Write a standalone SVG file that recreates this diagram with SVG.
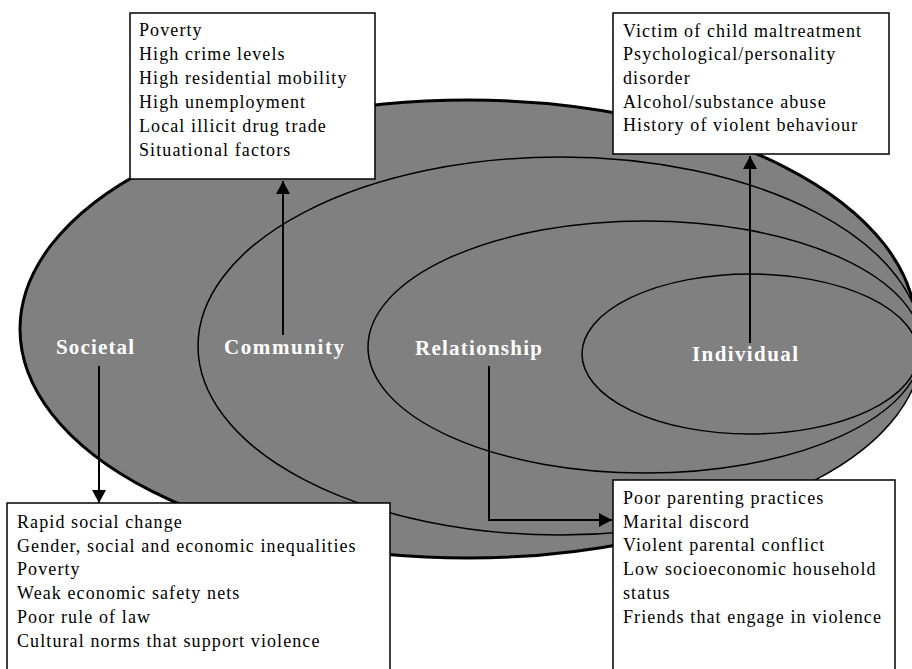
<svg xmlns="http://www.w3.org/2000/svg" width="912" height="669" viewBox="0 0 912 669">
<style>
.ring{fill:#808080;stroke:#000;stroke-width:1.5}
.outer{stroke-width:3}
.lbl{font-family:"Liberation Serif","Times New Roman",serif;font-weight:bold;font-size:21px;fill:#fff}
.box{fill:#fff;stroke:#000;stroke-width:1.5}
.txt{font-family:"Liberation Serif","Times New Roman",serif;font-size:18px;fill:#000;letter-spacing:1.1px}
.conn{fill:none;stroke:#000;stroke-width:2}
</style>
<defs>
<marker id="ah" markerUnits="userSpaceOnUse" markerWidth="14" markerHeight="14" refX="13" refY="7" orient="auto">
<path d="M0,0 L13,7 L0,14 z" fill="#000"/>
</marker>
</defs>
<rect width="912" height="669" fill="#fff"/>
<g id="societal">
<ellipse class="ring outer" cx="468" cy="329" rx="448" ry="229"/>
<text class="lbl" x="56" y="354" textLength="78" lengthAdjust="spacing">Societal</text>
</g>
<g id="community">
<ellipse class="ring" cx="560" cy="346" rx="362" ry="189"/>
<text class="lbl" x="224" y="354" textLength="120" lengthAdjust="spacing">Community</text>
</g>
<g id="relationship">
<ellipse class="ring" cx="645" cy="347" rx="277" ry="126"/>
<text class="lbl" x="415" y="355" textLength="127" lengthAdjust="spacing">Relationship</text>
</g>
<g id="individual">
<ellipse class="ring" cx="750" cy="354" rx="168" ry="80"/>
<text class="lbl" x="692" y="361" textLength="106" lengthAdjust="spacing">Individual</text>
</g>
<g id="community-factors">
<rect class="box" x="130" y="13" width="245" height="166"/>
<text class="txt" x="139" y="36">Poverty</text>
<text class="txt" x="139" y="60">High crime levels</text>
<text class="txt" x="139" y="84">High residential mobility</text>
<text class="txt" x="139" y="108">High unemployment</text>
<text class="txt" x="139" y="132">Local illicit drug trade</text>
<text class="txt" x="139" y="156">Situational factors</text>
</g>
<g id="individual-factors">
<rect class="box" x="613" y="13" width="276" height="141"/>
<text class="txt" x="623" y="37">Victim of child maltreatment</text>
<text class="txt" x="623" y="60">Psychological/personality</text>
<text class="txt" x="623" y="84">disorder</text>
<text class="txt" x="623" y="108">Alcohol/substance abuse</text>
<text class="txt" x="623" y="131">History of violent behaviour</text>
</g>
<g id="societal-factors">
<rect class="box" x="7" y="503" width="383" height="190"/>
<text class="txt" x="17" y="528">Rapid social change</text>
<text class="txt" x="17" y="552">Gender, social and economic inequalities</text>
<text class="txt" x="17" y="575">Poverty</text>
<text class="txt" x="17" y="599">Weak economic safety nets</text>
<text class="txt" x="17" y="623">Poor rule of law</text>
<text class="txt" x="17" y="647">Cultural norms that support violence</text>
</g>
<g id="relationship-factors">
<rect class="box" x="613" y="480" width="282" height="210"/>
<text class="txt" x="623" y="504">Poor parenting practices</text>
<text class="txt" x="623" y="528">Marital discord</text>
<text class="txt" x="623" y="551">Violent parental conflict</text>
<text class="txt" x="623" y="575">Low socioeconomic household</text>
<text class="txt" x="623" y="599">status</text>
<text class="txt" x="623" y="623">Friends that engage in violence</text>
</g>
<g id="connectors">
<line class="conn" x1="283" y1="335" x2="283" y2="181" marker-end="url(#ah)"/>
<line class="conn" x1="99" y1="366" x2="99" y2="503" marker-end="url(#ah)"/>
<line class="conn" x1="750" y1="343" x2="750" y2="156" marker-end="url(#ah)"/>
<path class="conn" d="M489,366 V520 H612" marker-end="url(#ah)"/>
</g>
</svg>
